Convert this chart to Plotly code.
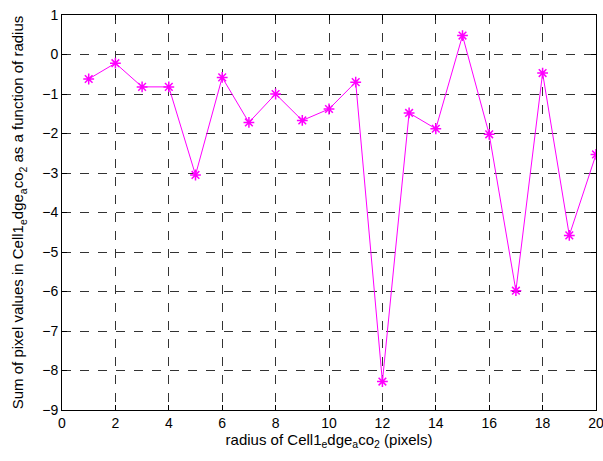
import plotly.graph_objects as go

radius = list(range(1, 21))
values = [-0.62, -0.22, -0.82, -0.82, -3.05, -0.58, -1.72, -1.0, -1.67, -1.38,
          -0.70, -8.28, -1.48, -1.88, 0.48, -2.02, -5.98, -0.47, -4.58, -2.53]
x_ticks = list(range(0, 21, 2))
y_ticks = list(range(-9, 2))

fig = go.Figure()
fig.add_trace(go.Scatter(
    x=radius, y=values, mode="lines+markers",
    line=dict(color="#ff00ff", width=1),
    marker=dict(symbol="asterisk-open", size=9, color="#ff00ff",
                line=dict(color="#ff00ff", width=1.5)),
))

axis_common = dict(
    showline=True, linecolor="black", linewidth=1, mirror="ticks",
    ticks="inside", ticklen=5, tickcolor="black",
    showgrid=True, gridcolor="rgba(0,0,0,0.8)", griddash="dash", gridwidth=1,
    zeroline=False, automargin=False, ticklabeloverflow="allow",
    tickfont=dict(family="Liberation Sans, Arial", size=14, color="black"),
)

fig.update_layout(
    width=603, height=461,
    margin=dict(l=62, r=7, t=15, b=51),
    paper_bgcolor="white", plot_bgcolor="white",
    showlegend=False,
    font=dict(family="Liberation Sans, Arial", color="black"),
    xaxis=dict(range=[0, 20], tickvals=x_ticks,
               title=dict(text="radius of Cell1<sub>e</sub>dge<sub>a</sub>co<sub>2</sub> (pixels)",
                          font=dict(size=15), standoff=2),
               **axis_common),
    yaxis=dict(range=[-9, 1], tickvals=y_ticks,
               title=dict(text="Sum of pixel values in Cell1<sub>e</sub>dge<sub>a</sub>co<sub>2</sub> as a function of radius",
                          font=dict(size=15), standoff=14),
               **axis_common),
)

fig.write_html("out.html", config={"displayModeBar": False},
               post_script="document.body.style.margin='0';document.body.style.overflow='hidden';")
